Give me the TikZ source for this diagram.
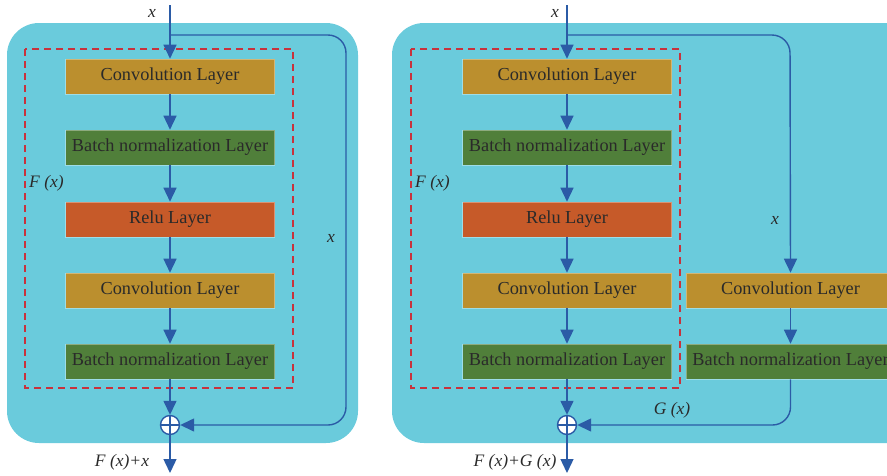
\documentclass[tikz,border=0pt]{standalone}
\usepackage{fontspec}
\setmainfont{Liberation Serif}
\usetikzlibrary{arrows.meta}
\definecolor{panel}{HTML}{6ACBDC}
\definecolor{convc}{HTML}{BB8F2E}
\definecolor{bnc}{HTML}{507F3A}
\definecolor{reluc}{HTML}{C65A29}
\definecolor{linec}{HTML}{2B5BA6}
\definecolor{dashc}{HTML}{C8323C}
\definecolor{txt}{HTML}{2A2A2A}
\tikzset{
  layer/.style={minimum width=209pt, minimum height=35pt, inner sep=0pt, draw=white, draw opacity=0.35, line width=0.6pt, text=txt, font=\fontsize{18.3}{20}\selectfont},
  convbox/.style={layer, fill=convc},
  bnbox/.style={layer, fill=bnc},
  relubox/.style={layer, fill=reluc},
  flow/.style={draw=linec, line width=1.4pt, -{Triangle[length=14pt,width=13pt]}},
  lbl/.style={text=txt, font=\fontsize{17.5}{20}\selectfont\itshape, inner sep=0pt},
  fbox/.style={draw=dashc, line width=1.3pt, dash pattern=on 7pt off 5pt},
  panelbox/.style={fill=panel, rounded corners=32pt},
  sumnode/.style={circle, draw=linec, line width=1.4pt, fill=white, minimum size=19pt, inner sep=0pt, path picture={
    \draw[linec, line width=1.4pt] (path picture bounding box.north) -- (path picture bounding box.south)
      (path picture bounding box.west) -- (path picture bounding box.east);}}
}
\begin{document}
\begin{tikzpicture}[x=1pt,y=-1pt]
\useasboundingbox (0,0) rectangle (887,475);
\clip (0,0) rectangle (887,475);
% panels
\fill[panelbox] (7,23) rectangle (358,443);
\fill[panelbox] (392,23) rectangle (940,443);
% dashed F boxes
\draw[fbox] (25,49) rectangle (293,388);
\draw[fbox] (411,49) rectangle (680,388);

% ---------- left block ----------
\coordinate (inL) at (170,5);
\node[convbox] (c1L) at (170,76.5) {Convolution Layer};
\node[bnbox] (b1L) at (170,147.5) {Batch normalization Layer};
\node[relubox] (rL) at (170,219.5) {Relu Layer};
\node[convbox] (c2L) at (170,290.5) {Convolution Layer};
\node[bnbox] (b2L) at (170,361.5) {Batch normalization Layer};
\node[sumnode] (sL) at (170,425) {};
\coordinate (outL) at (170,473);
\coordinate (brL) at (170,35);
\coordinate (cornerL) at (346,35);

\draw[flow] (inL) -- (c1L.north);
\draw[flow] (c1L) -- (b1L);
\draw[flow] (b1L) -- (rL);
\draw[flow] (rL) -- (c2L);
\draw[flow] (c2L) -- (b2L);
\draw[flow] (b2L) -- (sL);
\draw[flow] (sL) -- (outL);
\draw[flow, rounded corners=18pt] (brL) -- (cornerL) |- (sL.east);

\node[lbl] (xinL) at (152,13) {x};
\node[lbl, anchor=west] (fL) at (29,183) {F (x)};
\node[lbl] (xsL) at (331,238) {x};
\node[lbl] (oL) at (122,462) {F (x)+x};

% ---------- right block ----------
\coordinate (inR) at (567,5);
\node[convbox] (c1R) at (567,76.5) {Convolution Layer};
\node[bnbox] (b1R) at (567,147.5) {Batch normalization Layer};
\node[relubox] (rR) at (567,219.5) {Relu Layer};
\node[convbox] (c2R) at (567,290.5) {Convolution Layer};
\node[bnbox] (b2R) at (567,361.5) {Batch normalization Layer};
\node[sumnode] (sR) at (567,425) {};
\coordinate (outR) at (567,473);
\coordinate (brR) at (567,35);
\coordinate (cornerR) at (790,35);
\node[convbox] (c3R) at (790.5,290.5) {Convolution Layer};
\node[bnbox] (b3R) at (790.5,361.5) {Batch normalization Layer};

\draw[flow] (inR) -- (c1R.north);
\draw[flow] (c1R) -- (b1R);
\draw[flow] (b1R) -- (rR);
\draw[flow] (rR) -- (c2R);
\draw[flow] (c2R) -- (b2R);
\draw[flow] (b2R) -- (sR);
\draw[flow] (sR) -- (outR);
\draw[flow, rounded corners=18pt] (brR) -- (cornerR) -- (c3R.north);
\draw[flow] (c3R) -- (b3R);
\draw[flow, rounded corners=18pt] (b3R.south) |- (sR.east);

\node[lbl] (xinR) at (555,13) {x};
\node[lbl, anchor=west] (fR) at (415,183) {F (x)};
\node[lbl] (xsR) at (775,220) {x};
\node[lbl] (gR) at (672,410) {G (x)};
\node[lbl] (oR) at (515,462) {F (x)+G (x)};
\end{tikzpicture}
\end{document}
